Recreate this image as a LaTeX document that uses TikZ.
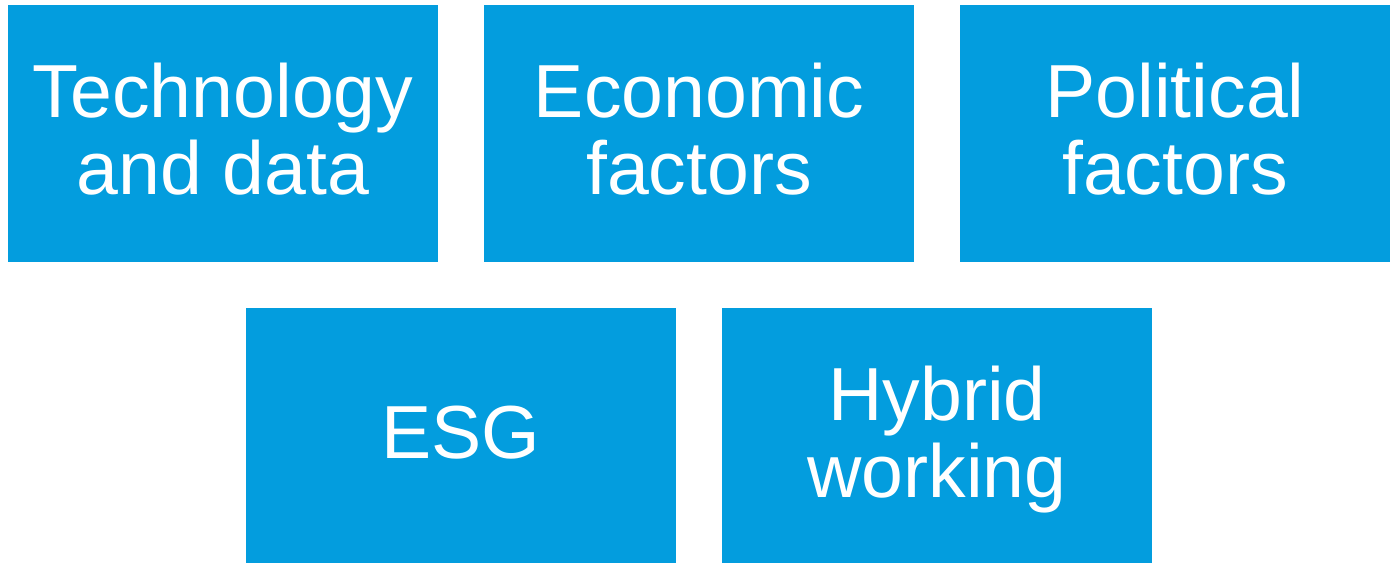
\documentclass[tikz,border=0pt]{standalone}
\usepackage{fontspec}
\setmainfont{Liberation Sans}
\definecolor{tileblue}{RGB}{3,157,222}

\tikzset{tile/.style={fill=tileblue, draw=none, minimum width=8.6cm, minimum height=5.14cm,
  inner sep=0pt, text=white, align=center, text depth=0.18cm,
  font=\fontsize{42.8}{43.7}\selectfont}}

\begin{document}
\begin{tikzpicture}
\useasboundingbox[fill=white] (0,0) rectangle (27.82,-11.26);

% top row
\node[tile] (tech) at (4.46,-2.67) {Technology\\and data};
\node[tile] (econ) at (13.98,-2.67) {Economic\\factors};
\node[tile] (poli) at (23.5,-2.67) {Political\\factors};

% bottom row
\node[tile] (esg) at (9.22,-8.73) {ESG};
\node[tile] (hybrid) at (18.74,-8.73) {Hybrid\\working};
\end{tikzpicture}
\end{document}
